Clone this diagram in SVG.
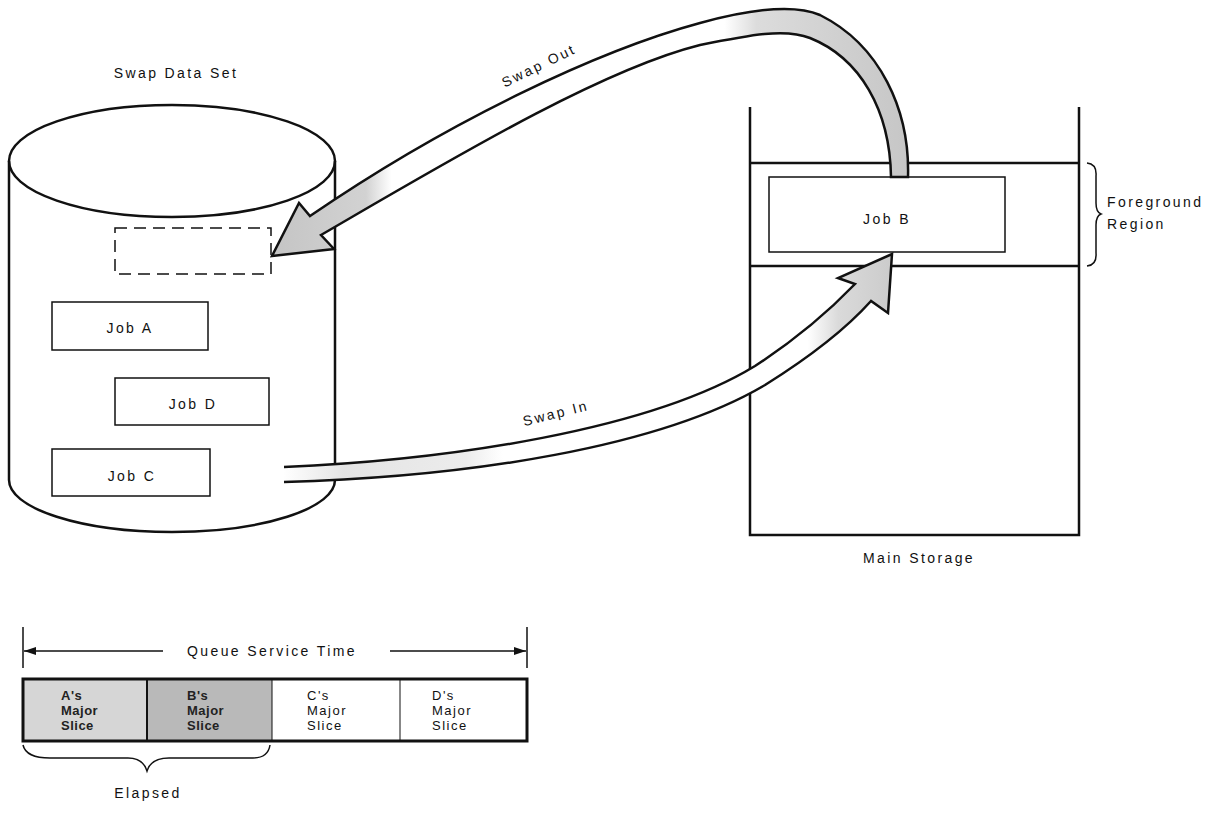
<svg xmlns="http://www.w3.org/2000/svg" width="1211" height="829" viewBox="0 0 1211 829">
<defs>
<style>
.t{font-family:"Liberation Sans",Arial,sans-serif;font-size:14px;letter-spacing:2.4px;fill:#111}
.s{font-family:"Liberation Sans",Arial,sans-serif;font-size:13px;letter-spacing:1.5px;fill:#111}
.sb{font-family:"Liberation Sans",Arial,sans-serif;font-size:13px;font-weight:bold;letter-spacing:0.5px;fill:#222}
.ln{fill:none;stroke:#111;stroke-width:2.5}
.box{fill:#fff;stroke:#111;stroke-width:1.5}
.thin{fill:none;stroke:#111;stroke-width:1.5}
</style>
<linearGradient id="gOut" gradientUnits="userSpaceOnUse" x1="270" y1="0" x2="910" y2="0">
<stop offset="0" stop-color="#c4c4c4"/>
<stop offset="0.15" stop-color="#d2d2d2"/>
<stop offset="0.19" stop-color="#fff"/>
<stop offset="0.71" stop-color="#fff"/>
<stop offset="0.76" stop-color="#dcdcdc"/>
<stop offset="1" stop-color="#c6c6c6"/>
</linearGradient>
<linearGradient id="gIn" gradientUnits="userSpaceOnUse" x1="283" y1="0" x2="893" y2="0">
<stop offset="0" stop-color="#fff"/>
<stop offset="0.1" stop-color="#e4e4e4"/>
<stop offset="0.3" stop-color="#ececec"/>
<stop offset="0.36" stop-color="#fff"/>
<stop offset="0.86" stop-color="#fff"/>
<stop offset="0.91" stop-color="#dadada"/>
<stop offset="1" stop-color="#cbcbcb"/>
</linearGradient>
<marker id="ah" viewBox="0 0 12 8" refX="12" refY="4" markerWidth="12" markerHeight="8" markerUnits="userSpaceOnUse" orient="auto-start-reverse">
<path d="M0,0 L12,4 L0,8 Z" fill="#111"/>
</marker>
</defs>

<g id="swap-data-set">
<text class="t" x="176" y="78" text-anchor="middle">Swap Data Set</text>
<path class="ln" d="M9,161 L9,480 A163,52 0 0 0 335,480 L335,161"/>
<ellipse class="ln" cx="172" cy="161" rx="163" ry="56"/>
<rect x="115" y="228" width="156" height="46" fill="none" stroke="#111" stroke-width="1.5" stroke-dasharray="12 7"/>
</g>

<g id="job-a">
<rect class="box" x="52" y="302" width="156" height="48"/>
<text class="t" x="130" y="333" text-anchor="middle">Job A</text>
</g>
<g id="job-d">
<rect class="box" x="115" y="378" width="154" height="47"/>
<text class="t" x="193" y="409" text-anchor="middle">Job D</text>
</g>
<g id="job-c">
<rect class="box" x="52" y="449" width="158" height="47"/>
<text class="t" x="132" y="481" text-anchor="middle">Job C</text>
</g>

<g id="main-storage">
<path class="ln" d="M750,107 L750,535 L1079,535 L1079,107"/>
<line class="ln" x1="750" y1="163" x2="1079" y2="163"/>
<line class="ln" x1="750" y1="266" x2="1079" y2="266"/>
<text class="t" x="919" y="563" text-anchor="middle">Main Storage</text>
</g>

<g id="job-b">
<rect class="box" x="769" y="177" width="236" height="75"/>
<text class="t" x="887" y="224" text-anchor="middle">Job B</text>
</g>

<g id="foreground-region">
<path class="thin" d="M1087,163 Q1097,164 1096,176 L1096,203 Q1096,212 1101,214 Q1096,216 1096,225 L1096,253 Q1097,265 1087,266"/>
<text class="t" x="1107" y="207">Foreground</text>
<text class="t" x="1107" y="229">Region</text>
</g>

<g id="connectors">
<path id="swap-out" fill="url(#gOut)" stroke="#111" stroke-width="2.5" stroke-linejoin="miter" d="M908,177 C910,110 880,45 820,15 C790,2 740,12 700,23 C600,50 450,120 310,216 L299,203 L272,256 L334,249 L321,235 C450,160 600,70 700,45 C750,35 785,28 810,38 C860,58 890,110 891,177 Z"/>
<path id="swap-in" fill="url(#gIn)" stroke="#111" stroke-width="2.5" d="M284,467 C450,460 650,430 755,366 C795,340 830,310 855,284 L838,278 L892,254 L888,313 L871,301 C845,330 805,360 765,385 C660,447 470,477 284,482"/>
<text class="t" transform="translate(541,70) rotate(-26)" text-anchor="middle">Swap Out</text>
<text class="t" transform="translate(557,418) rotate(-14)" text-anchor="middle">Swap In</text>
</g>

<g id="queue">
<line class="thin" x1="23" y1="627" x2="23" y2="668"/>
<line class="thin" x1="527" y1="627" x2="527" y2="668"/>
<line class="thin" x1="163" y1="651" x2="24" y2="651" marker-end="url(#ah)"/>
<line class="thin" x1="390" y1="651" x2="526" y2="651" marker-end="url(#ah)"/>
<text class="t" x="272" y="656" text-anchor="middle">Queue Service Time</text>
<rect x="23" y="679" width="124" height="62" fill="#d6d6d6"/>
<rect x="147" y="679" width="125" height="62" fill="#b9b9b9"/>
<rect x="23" y="679" width="504" height="62" fill="none" stroke="#111" stroke-width="3"/>
<line x1="147" y1="679" x2="147" y2="741" stroke="#111" stroke-width="2"/>
<line x1="272" y1="679" x2="272" y2="741" stroke="#111" stroke-width="1"/>
<line x1="400" y1="679" x2="400" y2="741" stroke="#111" stroke-width="1"/>
<text class="sb" x="61" y="700">A's<tspan x="61" dy="15">Major</tspan><tspan x="61" dy="15">Slice</tspan></text>
<text class="sb" x="187" y="700">B's<tspan x="187" dy="15">Major</tspan><tspan x="187" dy="15">Slice</tspan></text>
<text class="s" x="307" y="700">C's<tspan x="307" dy="15">Major</tspan><tspan x="307" dy="15">Slice</tspan></text>
<text class="s" x="432" y="700">D's<tspan x="432" dy="15">Major</tspan><tspan x="432" dy="15">Slice</tspan></text>
<path class="thin" d="M23,745 Q26,758 50,758 L128,758 Q143,758 147,771 Q151,758 169,758 L253,758 Q268,758 270,745"/>
<text class="t" x="148" y="798" text-anchor="middle">Elapsed</text>
</g>
</svg>
